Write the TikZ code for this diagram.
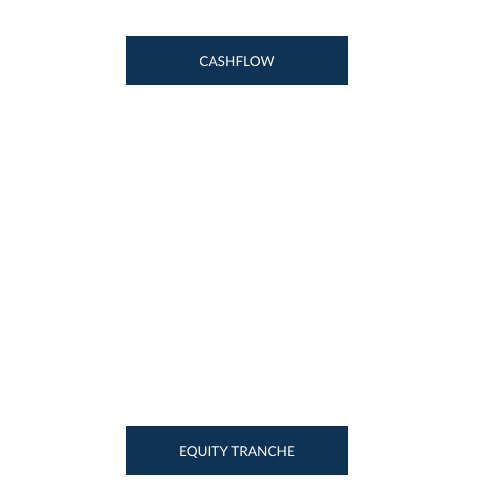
\documentclass[tikz,border=0pt]{standalone}
\usepackage{fontspec}
\setmainfont{Lato}
\definecolor{boxblue}{HTML}{0E3354}
\begin{document}
\begin{tikzpicture}[x=1pt,y=-1pt,
  darkbox/.style={fill=boxblue,draw=none,minimum width=222pt,minimum height=49pt,inner sep=0pt,
    text height=12pt,text depth=0pt,
    text=white,font=\fontsize{13.6}{15}\selectfont}]
\useasboundingbox (0,0) rectangle (494,485);
\node[darkbox] (cash) at (237,60.5) {CASHFLOW};
\node[darkbox] (equity) at (237,450.5) {EQUITY TRANCHE};
\end{tikzpicture}
\end{document}
